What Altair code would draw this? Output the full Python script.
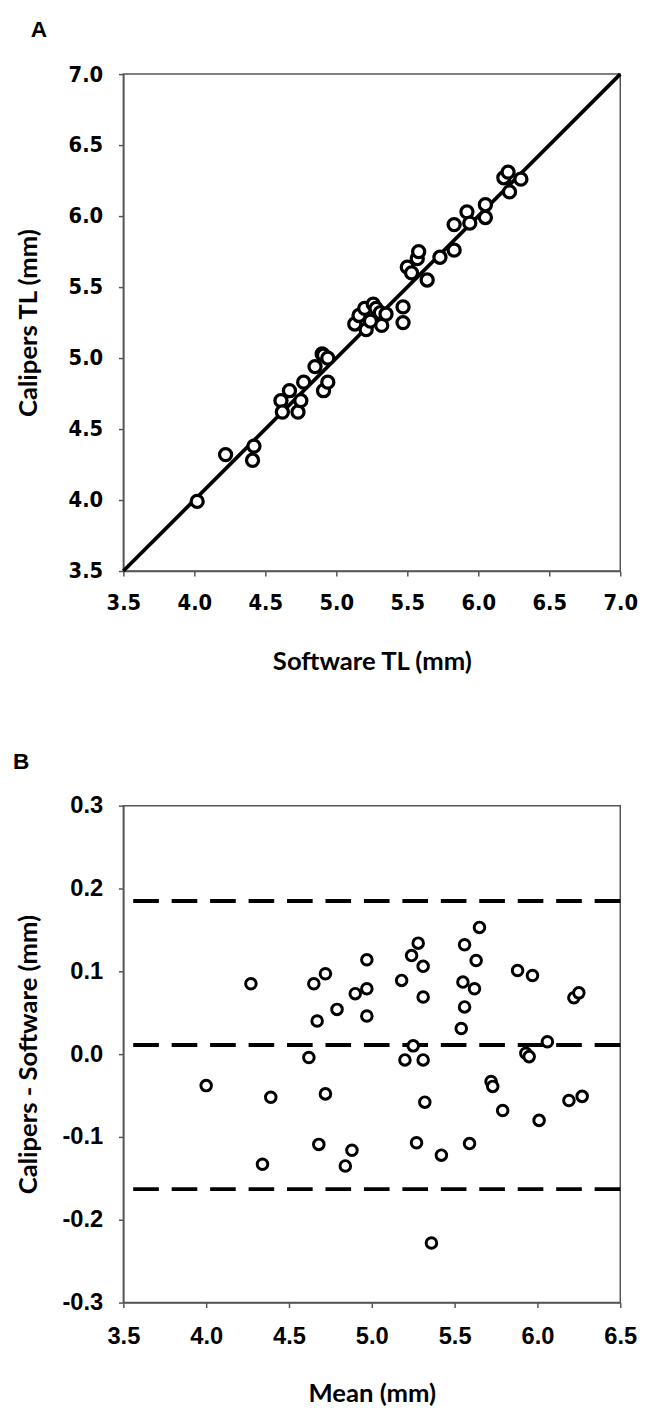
import altair as alt
import pandas as pd

# ---------------- data ----------------
panel_labels = ["A", "B"]

# Panel A: calipers vs software total length
software_tl = [4.02, 4.22, 4.42, 4.41, 4.61, 4.62, 4.67, 4.73, 4.75, 4.77,
               4.85, 4.90, 4.91, 4.94, 4.91, 4.94, 5.13, 5.16, 5.20, 5.21,
               5.24, 5.26, 5.28, 5.31, 5.32, 5.35, 5.47, 5.47, 5.50, 5.53,
               5.57, 5.58, 5.64, 5.73, 5.83, 5.83, 5.92, 5.94, 6.05, 6.05,
               6.18, 6.21, 6.22, 6.30]
calipers_tl = [3.99, 4.32, 4.38, 4.28, 4.70, 4.62, 4.77, 4.62, 4.70, 4.83,
               4.94, 5.03, 5.02, 5.00, 4.77, 4.83, 5.24, 5.30, 5.35, 5.20,
               5.26, 5.38, 5.35, 5.32, 5.23, 5.31, 5.36, 5.25, 5.64, 5.60,
               5.70, 5.75, 5.55, 5.71, 5.76, 5.94, 6.03, 5.95, 6.08, 5.99,
               6.27, 6.31, 6.17, 6.26]
identity_tl = [3.5, 7.0]
a_ticks = [3.5, 4.0, 4.5, 5.0, 5.5, 6.0, 6.5, 7.0]

# Panel B: Bland-Altman
mean_mm = [4.27, 4.65, 4.72, 4.67, 4.79, 4.90, 4.97, 4.97, 4.97, 5.18,
           5.24, 5.28, 5.31, 5.31, 5.56, 5.63, 5.55, 5.62, 5.56, 5.54,
           5.65, 5.25, 5.88, 5.97, 6.22, 6.25, 6.06, 5.93, 4.62, 4.00,
           4.39, 4.72, 4.34, 4.68, 4.84, 4.88, 5.20, 5.31, 5.32, 5.27,
           5.42, 5.59, 5.36, 5.95, 5.72, 5.73, 5.79, 6.01, 6.19, 6.27]
diff_mm = [0.085, 0.085, 0.097, 0.040, 0.054, 0.073, 0.079, 0.114, 0.046, 0.089,
           0.119, 0.134, 0.106, 0.069, 0.132, 0.113, 0.087, 0.079, 0.057, 0.031,
           0.153, 0.010, 0.101, 0.095, 0.068, 0.074, 0.015, 0.001, -0.004, -0.038,
           -0.052, -0.048, -0.133, -0.109, -0.135, -0.116, -0.007, -0.007, -0.058, -0.107,
           -0.122, -0.108, -0.228, -0.003, -0.033, -0.039, -0.068, -0.080, -0.056, -0.051]
limit_lines = [0.185, 0.011, -0.163]
b_xticks = [3.5, 4.0, 4.5, 5.0, 5.5, 6.0, 6.5]
b_yticks = [-0.3, -0.2, -0.1, 0.0, 0.1, 0.2, 0.3]

# ---------------- styling ----------------
W = 504
H = 504
AX = "#555555"
TITLE_FONT = "Lato"
LABEL_FONT_A = "DejaVu Sans Condensed, Liberation Sans"
LABEL_FONT_B = "Liberation Sans"


def x_axis(title, values, font, size, fmt_expr):
    return alt.Axis(
        title=title, values=values, labelExpr=fmt_expr, grid=False,
        labelFont=font, labelFontSize=size, labelFontWeight="bold",
        labelColor="black", labelPadding=17, labelFlush=False,
        labelOverlap=False, tickSize=5, tickColor=AX, tickWidth=1.5,
        domainColor=AX, domainWidth=1.5,
        titleFont=TITLE_FONT, titleFontSize=26, titleFontWeight="bold",
        titleColor="black", titleY=92, titleBaseline="middle",
    )


def y_axis(title, values, font, size, fmt_expr):
    return alt.Axis(
        title=title, values=values, labelExpr=fmt_expr, grid=False,
        labelFont=font, labelFontSize=size, labelFontWeight="bold",
        labelColor="black", labelPadding=16, labelFlush=False,
        labelOverlap=False, tickSize=5, tickColor=AX, tickWidth=1.5,
        domainColor=AX, domainWidth=1.5,
        titleFont=TITLE_FONT, titleFontSize=26, titleFontWeight="bold",
        titleColor="black", titleAngle=-90, titleX=-96, titleY=H / 2,
        titleBaseline="middle", titleAlign="center",
    )


FMT = "(datum.value < -0.0001 ? '-' : '') + format(abs(datum.value), '.1f')"

# ---------------- panel A ----------------
dfA = pd.DataFrame({"software": software_tl, "calipers": calipers_tl})
dfLine = pd.DataFrame({"x": identity_tl, "y": identity_tl})
xA = alt.Scale(domain=[3.5, 7.0], nice=False, zero=False)
yA = alt.Scale(domain=[3.5, 7.0], nice=False, zero=False)

lineA = alt.Chart(dfLine).mark_line(color="black", strokeWidth=3.8).encode(
    x=alt.X("x:Q", scale=xA, axis=x_axis("Software TL (mm)", a_ticks, LABEL_FONT_A, 22, FMT)),
    y=alt.Y("y:Q", scale=yA, axis=y_axis("Calipers TL (mm)", a_ticks, LABEL_FONT_A, 22, FMT)),
)
ptsA = alt.Chart(dfA).mark_point(
    shape="circle", filled=True, fill="white", stroke="black",
    strokeWidth=3.3, size=150, opacity=1,
).encode(x=alt.X("software:Q", scale=xA), y=alt.Y("calipers:Q", scale=yA))
labA = alt.Chart(pd.DataFrame({"label": [panel_labels[0]]})).mark_text(
    font="Liberation Sans", fontSize=23, fontWeight="bold", align="left",
    baseline="middle", color="black",
).encode(text="label:N", x=alt.value(-94), y=alt.value(-45))

chartA = alt.layer(lineA, ptsA, labA).properties(width=W, height=H)

# ---------------- panel B ----------------
dfB = pd.DataFrame({"mean": mean_mm, "diff": diff_mm})
dfLim = pd.DataFrame({"y": limit_lines})
xB = alt.Scale(domain=[3.5, 6.5], nice=False, zero=False)
yB = alt.Scale(domain=[-0.3, 0.3], nice=False, zero=False)

rulesB = alt.Chart(dfLim).mark_rule(
    color="black", strokeWidth=4, strokeDash=[26, 13]
).encode(y=alt.Y("y:Q", scale=yB, axis=y_axis("Calipers - Software (mm)", b_yticks, LABEL_FONT_B, 24, FMT)))
ptsB = alt.Chart(dfB).mark_point(
    shape="circle", filled=True, fill="white", stroke="black",
    strokeWidth=3, size=115, opacity=1,
).encode(
    x=alt.X("mean:Q", scale=xB, axis=x_axis("Mean (mm)", b_xticks, LABEL_FONT_B, 24, FMT)),
    y=alt.Y("diff:Q", scale=yB),
)
labB = alt.Chart(pd.DataFrame({"label": [panel_labels[1]]})).mark_text(
    font="Liberation Sans", fontSize=23, fontWeight="bold", align="left",
    baseline="middle", color="black",
).encode(text="label:N", x=alt.value(-112), y=alt.value(-44))

chartB = alt.layer(rulesB, ptsB, labB).properties(width=W, height=H)

chart = alt.vconcat(chartA, chartB, spacing=76).properties(
    padding={"left": 4, "top": 0, "right": 0, "bottom": 0},
    background="white",
).configure_view(stroke=AX, strokeWidth=1.5)

chart.save("out.html", embed_options={"renderer": "svg", "actions": False})
